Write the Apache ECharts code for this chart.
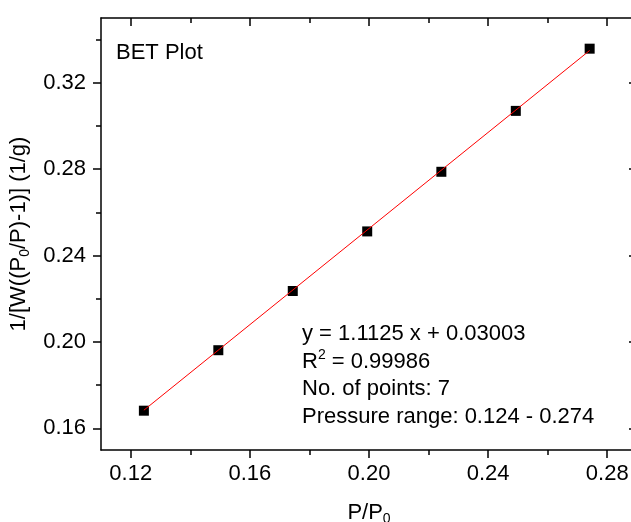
<!DOCTYPE html>
<html>
<head>
<meta charset="utf-8">
<title>BET Plot</title>
<script src="https://cdn.jsdelivr.net/npm/echarts@6/dist/echarts.min.js"></script>
<style>
  html, body { margin: 0; padding: 0; background: #fff; overflow: hidden; }
  /* a bit wider than the window: the right frame edge falls just outside the picture */
  #chart { width: 642px; height: 522px; }
</style>
</head>
<body>
<div id="chart"></div>
<script>
// measured points P/P0 vs 1/[W((P0/P)-1)]
var pRel = [0.1244, 0.1494, 0.1744, 0.1994, 0.2243, 0.2493, 0.2741];
var betY = [0.1682, 0.1962, 0.2236, 0.2512, 0.2788, 0.3070, 0.3358];

// linear fit shown in the annotation
var fitSlope = 1.1125;
var fitIntercept = 0.03003;
var fitR2 = '0.99986';

// ticks
var xMajor = [0.12, 0.16, 0.20, 0.24, 0.28];
var xMinor = [0.14, 0.18, 0.22, 0.26];
var yMajor = [0.16, 0.20, 0.24, 0.28, 0.32];
var yMinor = [0.18, 0.22, 0.26, 0.30, 0.34];

var FONT = '"Liberation Sans", Arial, sans-serif';
var FS = 22;

var scatterData = pRel.map(function (x, i) { return [x, betY[i]]; });
var x0 = pRel[0], x1 = pRel[pRel.length - 1];
var fitData = [[x0, fitSlope * x0 + fitIntercept], [x1, fitSlope * x1 + fitIntercept]];

var lineStyle = { color: '#000', width: 1.5 };

function xAx(pos, ticks, len, inside, main) {
  return {
    type: 'value', position: pos, min: 0.11, max: 0.29,
    splitLine: { show: false },
    axisLine: { show: main, onZero: false, lineStyle: lineStyle },
    axisTick: { show: true, inside: inside, length: len, customValues: ticks, lineStyle: lineStyle },
    axisLabel: main && pos === 'bottom' ? {
      customValues: ticks, margin: 13, color: '#000', fontFamily: FONT, fontSize: FS,
      formatter: function (v) { return v.toFixed(2); }
    } : { show: false }
  };
}
function yAx(pos, ticks, len, inside, main) {
  return {
    type: 'value', position: pos, min: 0.15, max: 0.35,
    splitLine: { show: false },
    axisLine: { show: main, onZero: false, lineStyle: lineStyle },
    axisTick: { show: true, inside: inside, length: len, customValues: ticks, lineStyle: lineStyle },
    axisLabel: main && pos === 'left' ? {
      customValues: ticks, margin: 15, color: '#000', fontFamily: FONT, fontSize: FS,
      formatter: function (v) { return v.toFixed(2); }
    } : { show: false }
  };
}

var xAxes = [
  xAx('bottom', xMajor, 8, false, true),
  xAx('bottom', xMinor, 5, false, false),
  xAx('top', xMajor, 8, true, true),
  xAx('top', xMinor, 5, true, false)
];
xAxes[0].name = '{a|P/P}{s|0}';
xAxes[0].nameLocation = 'middle';
xAxes[0].nameGap = 50;
xAxes[0].nameTextStyle = {
  color: '#000', fontFamily: FONT, fontSize: FS,
  rich: {
    a: { color: '#000', fontFamily: FONT, fontSize: FS },
    s: { color: '#000', fontFamily: FONT, fontSize: 14, verticalAlign: 'bottom', padding: [12, 0, 0, 0] }
  }
};

var yAxes = [
  yAx('left', yMajor, 8, false, true),
  yAx('left', yMinor, 5, false, false),
  yAx('right', yMajor, 8, true, true),
  yAx('right', yMinor, 5, true, false)
];
yAxes[0].name = '{a|1/[W((P}{s|0}{a|/P)-1)] (1/g)}';
yAxes[0].nameLocation = 'middle';
yAxes[0].nameGap = 56;
yAxes[0].nameTextStyle = {
  color: '#000', fontFamily: FONT, fontSize: FS,
  rich: {
    a: { color: '#000', fontFamily: FONT, fontSize: FS },
    s: { color: '#000', fontFamily: FONT, fontSize: 14, verticalAlign: 'bottom', padding: [12, 0, 0, 0] }
  }
};

var chart = echarts.init(document.getElementById('chart'));
chart.setOption({
  animation: false,
  backgroundColor: '#fff',
  // fixed plot box, don't let the axis name squeeze it
  grid: { left: 101, top: 18, width: 536, height: 432, containLabel: false, outerBoundsMode: 'none' },
  xAxis: xAxes,
  yAxis: yAxes,
  series: [
    {
      type: 'scatter', xAxisIndex: 0, yAxisIndex: 0,
      data: scatterData, symbol: 'rect', symbolSize: 10,
      itemStyle: { color: '#000', opacity: 1 }
    },
    {
      type: 'line', xAxisIndex: 0, yAxisIndex: 0,
      data: fitData, showSymbol: false, symbol: 'none',
      lineStyle: { color: '#ff0000', width: 1 }, z: 3
    }
  ],
  graphic: [
    {
      type: 'text', left: 116, top: 42,
      style: { text: 'BET Plot', fill: '#000', font: FS + 'px ' + FONT }
    },
    {
      type: 'text', left: 302, top: 323,
      style: {
        text: '{a|y = ' + fitSlope + ' x + ' + fitIntercept.toFixed(5) + '}\n' +
              '{a|R}{p|2}{a| = ' + fitR2 + '}\n' +
              '{a|No. of points: ' + pRel.length + '}\n' +
              '{a|Pressure range: 0.124 - 0.274}',
        fill: '#000', font: FS + 'px ' + FONT,
        rich: {
          a: { fontFamily: FONT, fontSize: FS, lineHeight: 27.5, fill: '#000' },
          p: { fontFamily: FONT, fontSize: 14, lineHeight: 27.5, fill: '#000', verticalAlign: 'top', padding: [0, 0, 10, 0] }
        }
      }
    }
  ]
});
</script>
</body>
</html>
